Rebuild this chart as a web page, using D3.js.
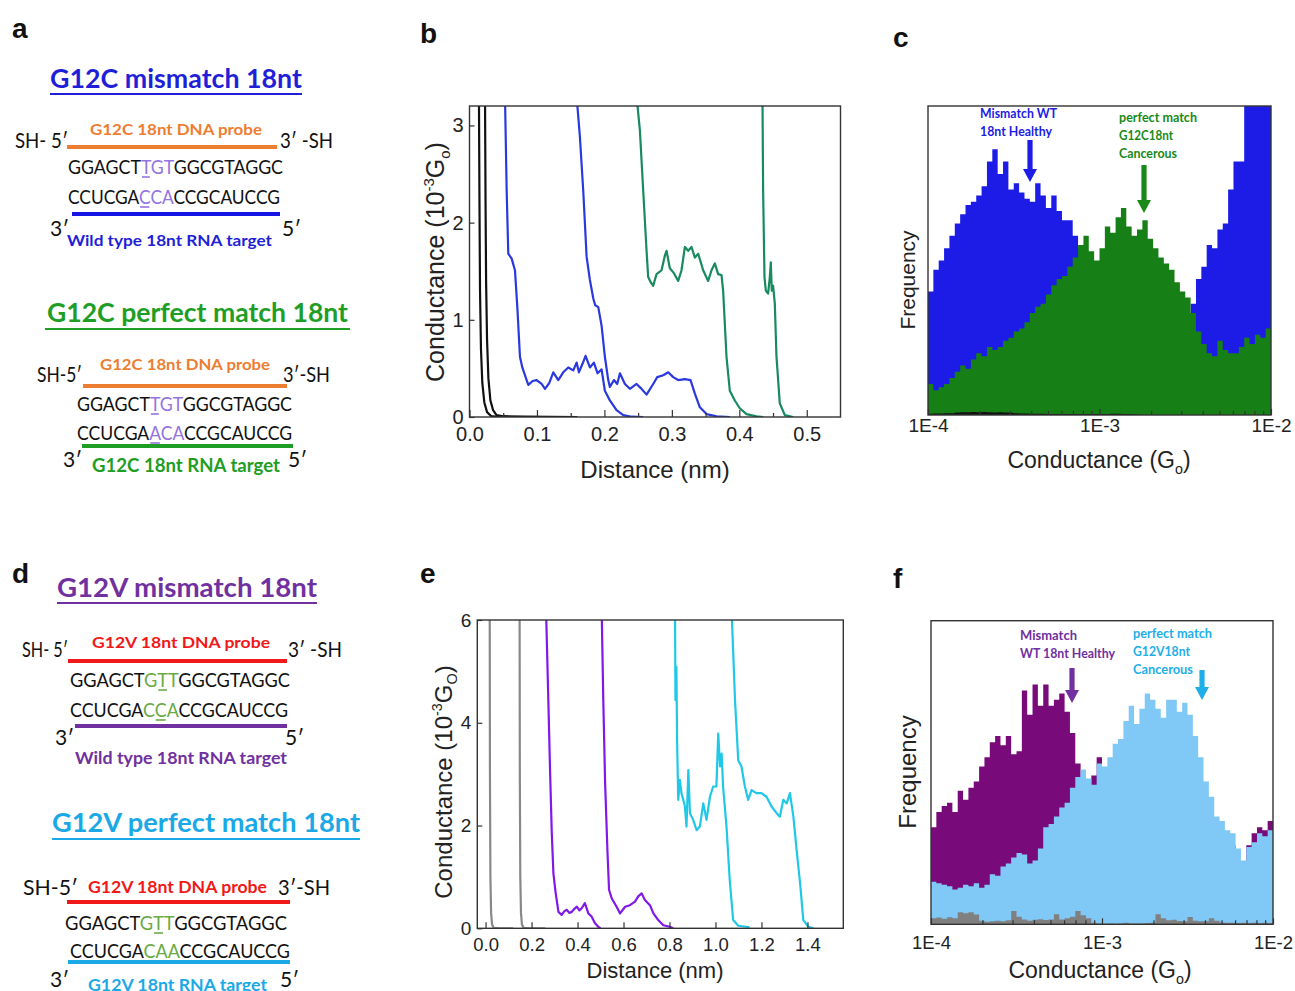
<!DOCTYPE html>
<html>
<head>
<meta charset="utf-8">
<script src="https://cdn.jsdelivr.net/npm/d3@7"></script>
<style>body{margin:0;background:#fff}</style>
</head>
<body>
<script>
// ---- panel b: break junction traces [distance (nm), conductance (1e-3 Go)]
const bBlack1 = [[0.014,3.3],[0.0148,2.2],[0.0156,1.3],[0.017,0.7],[0.019,0.35],[0.022,0.15],[0.026,0.05],[0.032,0.01],[0.045,0]];
const bBlack2 = [[0.023,3.3],[0.0238,2.2],[0.0246,1.4],[0.026,0.8],[0.028,0.4],[0.031,0.17],[0.035,0.07],[0.04,0.02],[0.05,0.008],[0.08,0.004],[0.16,0]];
const bBlue1 = [[0.0526,3.3],[0.0551,2.33],[0.0575,1.68],[0.0625,1.63],[0.0674,1.51],[0.0709,1.13],[0.0748,0.62],[0.0783,0.51],[0.0847,0.38],[0.0872,0.33],[0.0936,0.37],[0.0995,0.38],[0.1069,0.34],[0.1119,0.29],[0.1183,0.35],[0.1242,0.46],[0.1316,0.38],[0.139,0.46],[0.1464,0.51],[0.1538,0.48],[0.1588,0.56],[0.1622,0.46],[0.1677,0.55],[0.1721,0.63],[0.1785,0.51],[0.1844,0.56],[0.1899,0.45],[0.1958,0.49],[0.2007,0.27],[0.2081,0.17],[0.218,0.07],[0.2279,0.02],[0.2402,0.003],[0.2575,0]];
const bBlue2 = [[0.1588,3.3],[0.1637,2.88],[0.1686,2.33],[0.1736,1.65],[0.1785,1.41],[0.1835,1.22],[0.1864,1.15],[0.1909,1.13],[0.1958,0.94],[0.2007,0.62],[0.2057,0.38],[0.2081,0.31],[0.2141,0.38],[0.219,0.34],[0.223,0.45],[0.2304,0.34],[0.2378,0.29],[0.2477,0.34],[0.2536,0.3],[0.2625,0.23],[0.2723,0.34],[0.2783,0.41],[0.2872,0.43],[0.2946,0.46],[0.302,0.41],[0.3094,0.38],[0.3193,0.39],[0.3277,0.38],[0.3341,0.24],[0.3415,0.1],[0.3514,0.03],[0.3662,0.007],[0.3859,0]];
const bGreen1 = [[0.2477,3.3],[0.2526,2.95],[0.2575,2.33],[0.2625,1.71],[0.2649,1.44],[0.2684,1.39],[0.2723,1.35],[0.2773,1.47],[0.2847,1.51],[0.2896,1.66],[0.2921,1.71],[0.297,1.53],[0.303,1.48],[0.3094,1.4],[0.3143,1.51],[0.3193,1.75],[0.3242,1.71],[0.3291,1.75],[0.3341,1.64],[0.339,1.68],[0.3464,1.51],[0.3538,1.4],[0.3588,1.51],[0.3637,1.58],[0.3686,1.47],[0.3736,1.46],[0.376,1.3],[0.381,0.62],[0.3859,0.27],[0.3933,0.17],[0.4007,0.09],[0.4106,0.03],[0.4254,0.007],[0.4353,0]];
const bGreen2 = [[0.4343,3.3],[0.4353,2.33],[0.4373,1.44],[0.4393,1.3],[0.4427,1.27],[0.4452,1.44],[0.4467,1.59],[0.4481,1.3],[0.4501,1.35],[0.4526,1.17],[0.4551,0.62],[0.46,0.14],[0.4674,0.02],[0.4798,0]];

// ---- panel e traces
const eGrey1 = [[0.018,6.2],[0.019,3],[0.021,1],[0.024,0.3],[0.028,0.08],[0.035,0.01],[0.06,0],[0.12,0]];
const eGrey2 = [[0.148,6.2],[0.149,3],[0.151,1],[0.154,0.3],[0.158,0.08],[0.165,0.01],[0.19,0],[0.26,0]];
const ePurple1 = [[0.263,6.2],[0.273,4.44],[0.28,3.15],[0.288,1.85],[0.295,1.07],[0.305,0.68],[0.317,0.32],[0.331,0.26],[0.342,0.33],[0.353,0.36],[0.364,0.3],[0.375,0.32],[0.386,0.38],[0.397,0.42],[0.408,0.35],[0.418,0.39],[0.432,0.49],[0.447,0.29],[0.461,0.23],[0.476,0.1],[0.49,0.03],[0.5,0]];
const ePurple2 = [[0.505,6.2],[0.512,4.44],[0.52,2.82],[0.53,1.52],[0.537,0.75],[0.549,0.58],[0.57,0.42],[0.585,0.29],[0.607,0.42],[0.628,0.45],[0.65,0.52],[0.664,0.62],[0.679,0.68],[0.693,0.55],[0.715,0.45],[0.73,0.29],[0.751,0.16],[0.773,0.06],[0.801,0.03],[0.816,0]];
const eCyan1 = [[0.824,6.2],[0.826,4.44],[0.83,5.09],[0.833,3.66],[0.838,2.5],[0.845,2.89],[0.852,2.63],[0.86,2.5],[0.867,2.37],[0.874,1.98],[0.882,3.08],[0.889,2.24],[0.903,2.11],[0.918,1.91],[0.932,1.98],[0.947,2.43],[0.961,2.11],[0.976,2.56],[0.99,2.76],[1.004,2.76],[1.012,3.79],[1.02,3.15],[1.027,3.4],[1.033,2.76],[1.048,1.98],[1.062,0.94],[1.077,0.16],[1.099,0.05],[1.149,0.02]];
const eCyan2 = [[1.07,6.2],[1.085,4.44],[1.099,3.27],[1.113,3.15],[1.128,2.76],[1.142,2.5],[1.157,2.69],[1.178,2.63],[1.2,2.63],[1.222,2.56],[1.244,2.37],[1.266,2.24],[1.28,2.17],[1.295,2.5],[1.31,2.43],[1.324,2.63],[1.339,2.17],[1.353,1.52],[1.368,0.88],[1.382,0.16],[1.404,0.03],[1.426,0]];

// ---- panel c histograms, 64 log bins 1E-4 .. 1E-2 (arb. units, 100 = top of frame)
const cBlue = [40,47,50,54,58,62,65,68,69,71,74,82,86,78,82,73,75,72,70,69,75,71,67,71,66,63,63,58,54,51,48,45,42,38,35,32,29,27,25,23,22,21,20,20,19,19,20,22,28,36,44,48,55,54,60,62,73,82,82,100,110,110,110,110];
const cGreen = [10,8,9,10,12,14,16,15,18,20,19,22,21,22,24,25,27,28,30,33,35,36,39,42,44,45,48,51,55,58,53,50,54,61,59,64,67,61,58,60,63,57,54,51,49,47,43,40,38,33,27,23,20,19,24,21,20,20,22,25,23,26,25,28];
const cBlack = [0.4,0.5,0.5,0.6,0.6,0.8,0.9,0.9,1.0,0.9,1.0,0.9,0.8,0.9,0.8,0.7,0.6,0.5,0.5,0.4,0.4,0.4,0.3,0.3,0.3,0.3,0.3,0.3,0.3,0.3,0.3,0.3,0.3,0.3,0.4,0.4,0.3,0.3,0.2,0.1,0,0,0,0,0,0,0,0,0,0,0,0,0,0,0,0,0,0,0,0,0,0,0,0];

// ---- panel f histograms
const fPurple = [32,37,39,40,37,44,41,45,47,52,55,60,62,59,62,56,57,77,69,79,72,79,72,74,76,70,63,53,47,40,49,55,40,38,35,33,30,28,26,25,24,23,22,22,21,21,21,22,22,23,24,25,26,27,27,27,26,20,20,26,30,32,31,34];
const fLight = [14,13.5,13,12.5,11.5,12,13,12.5,13.5,12,13,16.5,16,19,20,22,23.5,23,20,21,25,32,33,35.5,38.5,40,45,48.5,51,48,46,53,52,55,59.5,61,67,72,66,71,76,74,71,68,74,74,70,73,69,62,55,47,42,35.5,34,31,30,25,21,25.5,27,30,29,31];
const fGrey = [2,2.2,1.8,2.3,2,4,3.6,4,3.2,1.2,0.8,1,1.2,1,1.3,4.4,2.5,1.6,1.2,1.5,1.7,1.4,1.6,3.3,1.6,2,2.5,4.4,3,2,0.5,0.3,0.2,0.3,0.2,0.3,0.5,0.3,0.3,0.3,0.4,0.5,3.3,2,1.3,1.5,1.1,1,2.4,1.2,1,1,2,1.2,0.6,0.5,0.5,0.4,0.5,0.4,0.5,0.4,0.5,0.4];

const bTicks = [0, 0.1, 0.2, 0.3, 0.4, 0.5];
const bYTicks = [0, 1, 2, 3];
const eTicks = [0, 0.2, 0.4, 0.6, 0.8, 1.0, 1.2, 1.4];
const eYTicks = [0, 2, 4, 6];
const logTicks = [1e-4, 1e-3, 1e-2];
const logLabels = ["1E-4", "1E-3", "1E-2"];

const AX = "'Liberation Sans', Arial, sans-serif";
const CAL = "Lato, 'Open Sans', sans-serif";

const svg = d3.select("body").append("svg")
  .attr("width", 1295).attr("height", 991)
  .style("background", "#fff");

function txt(s, x, y, o) {
  o = o || {};
  const t = svg.append("text").attr("x", x).attr("y", y).text(s)
    .attr("font-size", o.size || 18)
    .attr("font-weight", o.bold ? "bold" : "normal")
    .attr("fill", o.color || "#111")
    .attr("font-family", o.font || CAL);
  if (o.w) t.attr("textLength", o.w).attr("lengthAdjust", "spacingAndGlyphs");
  if (o.anchor) t.attr("text-anchor", o.anchor);
  return t;
}
function hline(x1, x2, y, color, w) {
  svg.append("line").attr("x1", x1).attr("x2", x2).attr("y1", y).attr("y2", y)
    .attr("stroke", color).attr("stroke-width", w || 4);
}
function seq(s, x, y, w, size, hi, ul) {
  const t = svg.append("text").attr("x", x).attr("y", y)
    .attr("font-size", size).attr("font-family", CAL).attr("fill", "#111");
  t.append("tspan").text(s.slice(0, 6));
  t.append("tspan").text(s.slice(6, 9)).attr("fill", hi);
  t.append("tspan").text(s.slice(9));
  t.attr("textLength", w).attr("lengthAdjust", "spacingAndGlyphs");
  const e = t.node().getExtentOfChar(ul);
  hline(e.x + 1, e.x + e.width - 1, y + 3, hi, 1.6);
}

// ---- panel letters
[["a", 12, 38], ["b", 420, 43], ["c", 893, 47], ["d", 12, 583], ["e", 420, 583], ["f", 893, 588]]
  .forEach(d => txt(d[0], d[1], d[2], {size: 28, bold: true, font: AX}));

// ---- schematics (a, d)
const BLUE_T = "#1f1fd8", GREEN_T = "#1e9e24", ORANGE = "#ed7d31", PURP_T = "#7030a0",
  CYAN_T = "#1aa9e6", RED = "#f01818", HL_P = "#9474e0", HL_G = "#6aaa46";

txt("G12C mismatch 18nt", 50, 88, {size: 26, bold: true, color: BLUE_T, w: 252});
hline(50, 302, 94, BLUE_T, 2);
txt("SH- 5\u2032", 15, 148, {size: 21, w: 53});
txt("G12C 18nt DNA probe", 90, 135, {size: 16, bold: true, color: ORANGE, w: 172});
hline(67, 277, 147, ORANGE);
txt("3\u2032 -SH", 280, 148, {size: 21, w: 53});
seq("GGAGCTTGTGGCGTAGGC", 68, 174, 215, 19, HL_P, 6);
seq("CCUCGACCACCGCAUCCG", 68, 204, 212, 19, HL_P, 6);
hline(72, 280, 214, "#1515e6");
txt("3\u2032", 50, 236, {size: 21});
txt("5\u2032", 282, 236, {size: 21});
txt("Wild type 18nt RNA target", 67, 246, {size: 16, bold: true, color: BLUE_T, w: 205});

txt("G12C perfect match 18nt", 47, 322, {size: 26, bold: true, color: GREEN_T, w: 301});
hline(45, 350, 329, GREEN_T, 2);
txt("SH-5\u2032", 37, 382, {size: 21, w: 45});
txt("G12C 18nt DNA probe", 100, 370, {size: 16, bold: true, color: ORANGE, w: 170});
hline(83, 287, 386, ORANGE);
txt("3\u2032-SH", 283, 382, {size: 21, w: 47});
seq("GGAGCTTGTGGCGTAGGC", 77, 411, 215, 19, HL_P, 6);
seq("CCUCGAACACCGCAUCCG", 77, 440, 215, 19, HL_P, 6);
hline(82, 293, 446, GREEN_T);
txt("3\u2032", 63, 467, {size: 21});
txt("5\u2032", 288, 467, {size: 21});
txt("G12C 18nt RNA target", 92, 472, {size: 18, bold: true, color: GREEN_T, w: 188});

txt("G12V mismatch 18nt", 57, 597, {size: 26, bold: true, color: PURP_T, w: 260});
hline(57, 317, 603, PURP_T, 2);
txt("SH- 5\u2032", 22, 657, {size: 21, w: 46});
txt("G12V 18nt DNA probe", 92, 648, {size: 16, bold: true, color: RED, w: 178});
hline(68, 287, 661, RED);
txt("3\u2032 -SH", 288, 657, {size: 21, w: 54});
seq("GGAGCTGTTGGCGTAGGC", 70, 687, 220, 19, HL_G, 7);
seq("CCUCGACCACCGCAUCCG", 70, 717, 218, 19, HL_G, 7);
hline(75, 287, 726, PURP_T);
txt("3\u2032", 55, 745, {size: 21});
txt("5\u2032", 285, 745, {size: 21});
txt("Wild type 18nt RNA target", 75, 764, {size: 17, bold: true, color: PURP_T, w: 212});

txt("G12V perfect match 18nt", 52, 832, {size: 26, bold: true, color: CYAN_T, w: 308});
hline(52, 360, 839, CYAN_T, 2);
txt("SH-5\u2032", 23, 895, {size: 21, w: 55});
txt("G12V 18nt DNA probe", 88, 893, {size: 17, bold: true, color: RED, w: 179});
txt("3\u2032-SH", 278, 895, {size: 21, w: 52});
hline(67, 290, 902, RED);
seq("GGAGCTGTTGGCGTAGGC", 65, 930, 222, 20, HL_G, 7);
seq("CCUCGACAACCGCAUCCG", 70, 958, 220, 20, HL_G, 7);
hline(68, 290, 962, CYAN_T);
txt("3\u2032", 50, 987, {size: 21});
txt("5\u2032", 280, 987, {size: 21});
txt("G12V 18nt RNA target", 88, 991, {size: 17, bold: true, color: CYAN_T, w: 179});

// ---- helpers for plots
let clipN = 0;
function frame(x0, y0, w, h) {
  const id = "clip" + (clipN++);
  svg.append("clipPath").attr("id", id).append("rect")
    .attr("x", x0).attr("y", y0).attr("width", w).attr("height", h);
  const g = svg.append("g").attr("clip-path", `url(#${id})`);
  return g;
}
function border(x0, y0, w, h) {
  svg.append("rect").attr("x", x0).attr("y", y0).attr("width", w).attr("height", h)
    .attr("fill", "none").attr("stroke", "#333").attr("stroke-width", 1.4);
}
function styleAxis(g, size) {
  g.select(".domain").remove();
  g.selectAll(".tick line").attr("stroke", "#333").attr("stroke-width", 1.2);
  g.selectAll("text").attr("font-family", AX).attr("font-size", size).attr("fill", "#222");
}
function yTitle(x, y, size, sub) {
  const t = svg.append("text").attr("transform", `translate(${x},${y}) rotate(-90)`)
    .attr("text-anchor", "middle").attr("font-family", AX).attr("font-size", size).attr("fill", "#222");
  t.append("tspan").text("Conductance (10");
  t.append("tspan").text("-3").attr("font-size", size * 0.6).attr("dy", -size * 0.4);
  t.append("tspan").text("G").attr("dy", size * 0.4);
  t.append("tspan").text(sub).attr("font-size", size * 0.6).attr("dy", size * 0.22);
  t.append("tspan").text(")").attr("dy", -size * 0.22);
}
function xTitleG(x, y, size) {
  const t = svg.append("text").attr("x", x).attr("y", y)
    .attr("text-anchor", "middle").attr("font-family", AX).attr("font-size", size).attr("fill", "#222");
  t.append("tspan").text("Conductance (G");
  t.append("tspan").text("o").attr("font-size", size * 0.62).attr("dy", size * 0.25);
  t.append("tspan").text(")").attr("dy", -size * 0.25);
}
function arrow(x, y0, y1, color) {
  const sw = 2.6, hw = 7, hl = 13;
  svg.append("path")
    .attr("d", `M${x - sw},${y0}H${x + sw}V${y1 - hl}H${x + hw}L${x},${y1}L${x - hw},${y1 - hl}H${x - sw}Z`)
    .attr("fill", color);
}

// ---- panel b
{
  const x = d3.scaleLinear().domain([0, 0.55]).range([469.5, 840.5]);
  const y = d3.scaleLinear().domain([0, 3.2]).range([417, 106]);
  const g = frame(469.5, 106, 371, 311);
  const line = d3.line().x(d => x(d[0])).y(d => y(d[1]));
  [[bBlack1, "#111"], [bBlack2, "#111"], [bBlue1, "#2a38e0"], [bBlue2, "#2a38e0"], [bGreen1, "#178a5e"], [bGreen2, "#178a5e"]]
    .forEach(s => g.append("path").datum(s[0]).attr("d", line).attr("fill", "none")
      .attr("stroke", s[1]).attr("stroke-width", 2.2).attr("stroke-linejoin", "round"));
  const ax = svg.append("g").attr("transform", "translate(0,417)")
    .call(d3.axisBottom(x).tickValues(bTicks).tickFormat(d3.format(".1f")).tickSize(-7).tickPadding(10));
  styleAxis(ax, 20);
  const axm = svg.append("g").attr("transform", "translate(0,417)")
    .call(d3.axisBottom(x).tickValues([0.05, 0.15, 0.25, 0.35, 0.45]).tickFormat("").tickSize(-4));
  styleAxis(axm, 20);
  const ay = svg.append("g").attr("transform", "translate(469.5,0)")
    .call(d3.axisLeft(y).tickValues(bYTicks).tickFormat(d3.format("d")).tickSize(-5).tickPadding(6));
  styleAxis(ay, 20);
  border(469.5, 106, 371, 311);
  txt("Distance (nm)", 655, 478, {size: 24, font: AX, anchor: "middle", color: "#222"});
  yTitle(444, 262, 25, "o");
}

// ---- panel e
{
  const x = d3.scaleLinear().domain([-0.036, 1.556]).range([477.3, 843.3]);
  const y = d3.scaleLinear().domain([0, 6]).range([928.3, 620]);
  const g = frame(477.3, 620, 366, 308.3);
  const line = d3.line().x(d => x(d[0])).y(d => y(d[1]));
  [[eGrey1, "#888"], [eGrey2, "#888"], [ePurple1, "#8018ea"], [ePurple2, "#8018ea"], [eCyan1, "#20c8e8"], [eCyan2, "#20c8e8"]]
    .forEach(s => g.append("path").datum(s[0]).attr("d", line).attr("fill", "none")
      .attr("stroke", s[1]).attr("stroke-width", 2.2).attr("stroke-linejoin", "round"));
  const ax = svg.append("g").attr("transform", "translate(0,928.3)")
    .call(d3.axisBottom(x).tickValues(eTicks).tickFormat(d3.format(".1f")).tickSize(-6).tickPadding(10));
  styleAxis(ax, 18.5);
  const ay = svg.append("g").attr("transform", "translate(477.3,0)")
    .call(d3.axisLeft(y).tickValues(eYTicks).tickFormat(d3.format("d")).tickSize(-5).tickPadding(6));
  styleAxis(ay, 19);
  border(477.3, 620, 366, 308.3);
  txt("Distance (nm)", 655, 978, {size: 22, font: AX, anchor: "middle", color: "#222"});
  yTitle(452, 782, 24, "O");
}

// ---- histogram helper
function hist(g, x, y, vals, color) {
  const n = vals.length;
  const edges = d3.range(n + 1).map(i => Math.pow(10, -4 + 2 * i / n));
  const pts = vals.map((v, i) => [edges[i], v]).concat([[edges[n], vals[n - 1]]]);
  g.append("path").datum(pts).attr("fill", color)
    .attr("d", d3.area().x(d => x(d[0])).y0(y(0)).y1(d => y(d[1])).curve(d3.curveStepAfter));
}
function logAxis(x, y0, pad, size) {
  const minor = [2, 3, 4, 5, 6, 7, 8, 9].flatMap(m => [m * 1e-4, m * 1e-3]);
  const ax = svg.append("g").attr("transform", `translate(0,${y0})`)
    .call(d3.axisBottom(x).tickValues(logTicks).tickFormat((d, i) => logLabels[i]).tickSize(-6).tickPadding(pad));
  styleAxis(ax, size);
  const am = svg.append("g").attr("transform", `translate(0,${y0})`)
    .call(d3.axisBottom(x).tickValues(minor).tickFormat("").tickSize(-4));
  styleAxis(am, size);
}

// ---- panel c
{
  const x = d3.scaleLog().domain([1e-4, 1e-2]).range([928, 1271]);
  const y = d3.scaleLinear().domain([0, 100]).range([415, 106]);
  const g = frame(928, 106, 343, 309);
  hist(g, x, y, cBlue, "#1c1ce6");
  hist(g, x, y, cGreen, "#168016");
  hist(g, x, y, cBlack, "#111");
  border(928, 106, 343, 309);
  logAxis(x, 415, 4, 19);
  xTitleG(1099, 468, 23);
  svg.append("text").attr("transform", "translate(915,280) rotate(-90)").attr("text-anchor", "middle")
    .attr("font-family", AX).attr("font-size", 21).attr("fill", "#222").text("Frequency");
  txt("Mismatch WT", 980, 118, {size: 13, bold: true, color: "#1c1ce6", w: 77});
  txt("18nt Healthy", 980, 136, {size: 13, bold: true, color: "#1c1ce6", w: 72});
  arrow(1030, 140, 182, "#1c1ce6");
  txt("perfect match", 1119, 122, {size: 13, bold: true, color: "#178a17", w: 78});
  txt("G12C18nt", 1119, 140, {size: 13, bold: true, color: "#178a17", w: 54});
  txt("Cancerous", 1119, 158, {size: 13, bold: true, color: "#178a17", w: 58});
  arrow(1144, 165, 213, "#178a17");
}

// ---- panel f
{
  const x = d3.scaleLog().domain([1e-4, 1e-2]).range([931, 1273]);
  const y = d3.scaleLinear().domain([0, 100]).range([924.3, 620.7]);
  const g = frame(931, 620.7, 342, 303.6);
  hist(g, x, y, fPurple, "#780a7a");
  hist(g, x, y, fLight, "#80c9f6");
  hist(g, x, y, fGrey, "#808080");
  border(931, 620.7, 342, 303.6);
  logAxis(x, 924.3, 12, 18.5);
  xTitleG(1100, 978, 23);
  svg.append("text").attr("transform", "translate(916,772) rotate(-90)").attr("text-anchor", "middle")
    .attr("font-family", AX).attr("font-size", 24).attr("fill", "#222").text("Frequency");
  txt("Mismatch", 1020, 640, {size: 13, bold: true, color: PURP_T, w: 57});
  txt("WT 18nt Healthy", 1020, 658, {size: 13, bold: true, color: PURP_T, w: 95});
  arrow(1072, 668, 703, PURP_T);
  txt("perfect match", 1133, 638, {size: 13, bold: true, color: "#1eaee8", w: 79});
  txt("G12V18nt", 1133, 656, {size: 13, bold: true, color: "#1eaee8", w: 57});
  txt("Cancerous", 1133, 674, {size: 13, bold: true, color: "#1eaee8", w: 60});
  arrow(1202, 670, 700, "#1eaee8");
}
</script>
</body>
</html>
